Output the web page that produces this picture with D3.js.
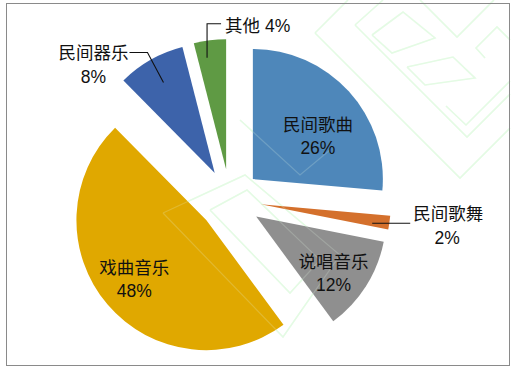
<!DOCTYPE html>
<html>
<head>
<meta charset="utf-8">
<script src="https://cdn.jsdelivr.net/npm/d3@7"></script>
<style>
body{margin:0;background:#fff;}
text{font-family:"Liberation Sans","Noto Sans CJK SC",sans-serif;font-size:17.5px;fill:#111;}
</style>
</head>
<body>
<svg id="chart" width="516" height="372"></svg>
<script>
// data (shares, labels are rounded)
var categories = ["民间歌曲","民间歌舞","说唱音乐","戏曲音乐","民间器乐","其他"];
var values = [26.4,1.7,11.8,47.7,8.4,4.0];
var colors = ["#4E87BA","#D4702C","#8F8F8F","#E0A800","#3D63AA","#5F9A44"];

var svg = d3.select("#chart");
var cx = 230, cy = 200, r = 130, explode = 31;

// faint watermark in the back
var wmShapes = [
    [[315,33],[348,0]],
    [[315,33],[460,178],[510,128]],
    [[355,25],[383,0]],
    [[355,25],[467,137],[510,94]],
    [[372,35],[403,12],[435,38],[392,53],[372,35]],
    [[407,67],[453,57],[475,78],[425,85],[407,67]],
    [[420,0],[457,37],[494,0]],
    [[485,58],[476,48],[497,27],[510,40]],
    [[446,106],[466,125],[510,81]],
    [[163,213],[245,175],[340,255],[283,337],[163,213]],
    [[210,210],[247,190],[320,260],[290,293],[210,210]],
    [[240,120],[300,175],[330,150]]
];
var wm = svg.append("g").attr("fill","none").attr("stroke","#e4fbe4").attr("stroke-width",1.6);
wmShapes.forEach(function (pts) {
    wm.append("path").attr("d", d3.line()(pts));
});

var pie = d3.pie().sort(null).value(function (d) { return d; });
var arcs = pie(values);
var arc = d3.arc().innerRadius(0).outerRadius(r);

function midAngle(a) { return (a.startAngle + a.endAngle) / 2; }
function polar(p, ang, dist) {
    return [p[0] + dist * Math.sin(ang), p[1] - dist * Math.cos(ang)];
}
function apex(a) { return polar([cx, cy], midAngle(a), explode); }
var deg = Math.PI / 180;

var slices = svg.append("g");
arcs.forEach(function (a, i) {
    var p = apex(a);
    slices.append("path")
        .attr("d", arc(a))
        .attr("transform","translate(" + p[0] + "," + p[1] + ")")
        .attr("fill", colors[i]);
});

// watermark shows faintly over the slices too
var wm2 = svg.append("g").attr("fill","none").attr("stroke","#e8fbe8").attr("stroke-width",1.2).attr("opacity",0.2);
wmShapes.forEach(function (pts) {
    wm2.append("path").attr("d", d3.line()(pts));
});

function pct(v) { return Math.round(v) + "%"; }

// inside labels
var insideIdx = [0,2,3];
var labelDist = {0:0.6, 2:0.74, 3:0.72};
var labelTurn = {0:9, 2:4, 3:1};
var lbl = svg.append("g").attr("text-anchor","middle");
insideIdx.forEach(function (i) {
    var a = arcs[i];
    var c = polar(apex(a), midAngle(a) + labelTurn[i] * deg, labelDist[i] * r);
    lbl.append("text").attr("x", c[0]).attr("y", c[1] - 11.5).attr("dy","0.35em").text(categories[i]);
    lbl.append("text").attr("x", c[0]).attr("y", c[1] + 11.5).attr("dy","0.35em").text(pct(values[i]));
});

// outside labels with leader lines
var lead = svg.append("g").attr("fill","none").attr("stroke","#111").attr("stroke-width",1.1);

// 民间歌舞
var p1 = polar(apex(arcs[1]), midAngle(arcs[1]) + 1.5 * deg, 0.87 * r);
lead.append("path").attr("d", d3.line()([p1, [p1[0] + 38, p1[1]]]));
lbl.append("text").attr("x", p1[0] + 76).attr("y", p1[1] - 9).attr("dy","0.35em").text(categories[1]);
lbl.append("text").attr("x", p1[0] + 75).attr("y", p1[1] + 15).attr("dy","0.35em").text(pct(values[1]));

// 民间器乐
var p4 = polar(apex(arcs[4]), midAngle(arcs[4]), 0.8 * r);
lead.append("path").attr("d", d3.line()([p4, [p4[0] - 16, p4[1] - 30], [p4[0] - 34, p4[1] - 30]]));
lbl.append("text").attr("x", p4[0] - 70).attr("y", p4[1] - 30).attr("dy","0.35em").text(categories[4]);
lbl.append("text").attr("x", p4[0] - 70).attr("y", p4[1] - 6).attr("dy","0.35em").text(pct(values[4]));

// 其他
var p5 = polar(apex(arcs[5]), midAngle(arcs[5]) - 2.5 * deg, 0.87 * r);
lead.append("path").attr("d", d3.line()([p5, [p5[0], p5[1] - 34], [p5[0] + 14, p5[1] - 34]]));
svg.append("text").attr("x", p5[0] + 18).attr("y", p5[1] - 32).attr("dy","0.35em")
    .text(categories[5] + " " + pct(values[5]));

// frame
svg.append("rect").attr("x",6.5).attr("y",3.5).attr("width",503).attr("height",362)
    .attr("fill","none").attr("stroke","#8a8a8a").attr("stroke-width",1);
</script>
</body>
</html>
